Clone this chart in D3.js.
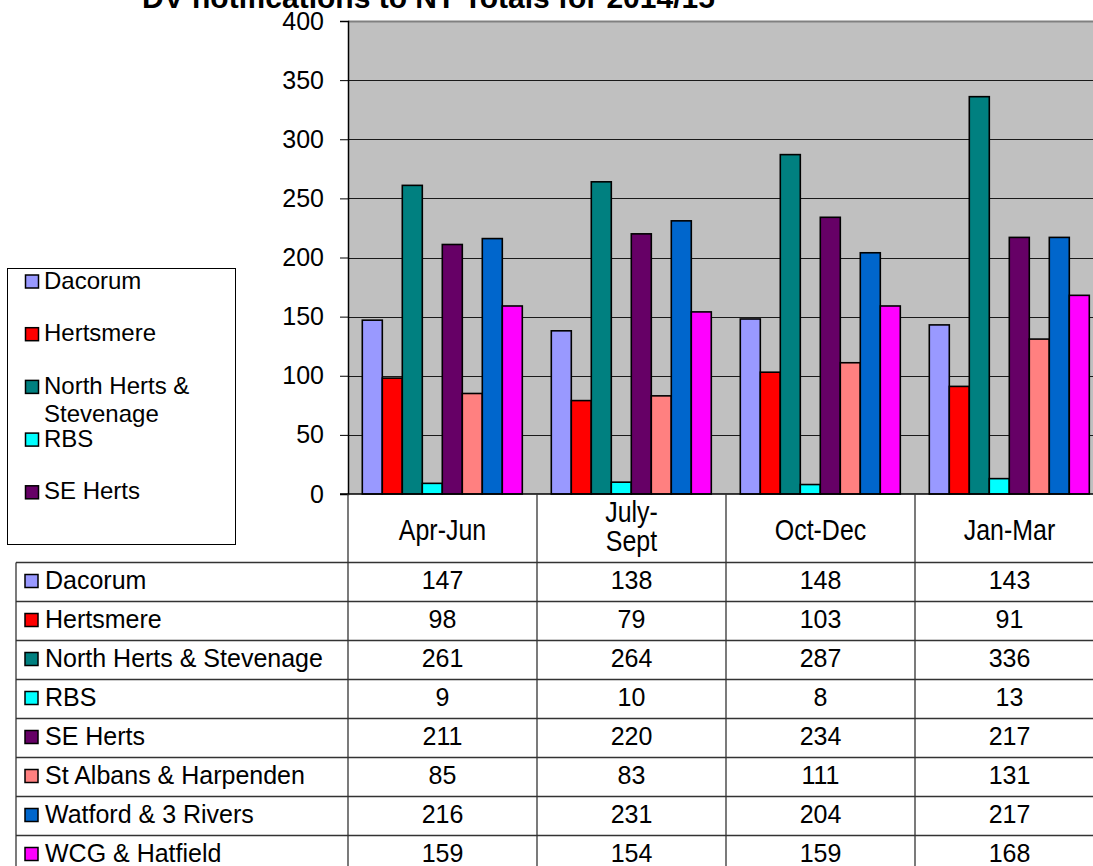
<!DOCTYPE html>
<html>
<head>
<meta charset="utf-8">
<script src="https://cdn.jsdelivr.net/npm/d3@7"></script>
<style>
  html, body { margin: 0; padding: 0; background: #fff; }
  svg { display: block; font-family: "Liberation Sans", Arial, sans-serif; }
</style>
</head>
<body>
<svg id="chart" width="1093" height="866"></svg>
<script>
// ---------------- data ----------------
const title = "DV notifications to NT Totals for 2014/15";
const categories = ["Apr-Jun", "July-Sept", "Oct-Dec", "Jan-Mar"];
const categoryLines = [["Apr-Jun"], ["July-", "Sept"], ["Oct-Dec"], ["Jan-Mar"]];
const seriesNames = ["Dacorum", "Hertsmere", "North Herts & Stevenage", "RBS", "SE Herts",
  "St Albans & Harpenden", "Watford & 3 Rivers", "WCG & Hatfield"];
const seriesColors = ["#9999FF", "#FF0000", "#008080", "#00FFFF", "#660066",
  "#FF8080", "#0066CC", "#FF00FF"];
const dacorum = [147, 138, 148, 143];
const hertsmere = [98, 79, 103, 91];
const northHerts = [261, 264, 287, 336];
const rbs = [9, 10, 8, 13];
const seHerts = [211, 220, 234, 217];
const stAlbans = [85, 83, 111, 131];
const watford = [216, 231, 204, 217];
const wcg = [159, 154, 159, 168];
const seriesValues = [dacorum, hertsmere, northHerts, rbs, seHerts, stAlbans, watford, wcg];
const yTicks = [0, 50, 100, 150, 200, 250, 300, 350, 400];
const legendShown = [["Dacorum"], ["Hertsmere"], ["North Herts &", "Stevenage"], ["RBS"], ["SE Herts"]];

// ---------------- layout ----------------
const svg = d3.select("#chart");
const W = 1093, H = 866;
const plotLeft = 348, plotTop = 21, plotBottom = 494;
const catWidth = 189;
const plotRight = plotLeft + catWidth * categories.length;

const y = d3.scaleLinear().domain([0, 400]).range([plotBottom, plotTop]);
const x0 = d3.scaleBand().domain(categories).range([plotLeft, plotRight]).padding(0);
const x1 = d3.scaleBand().domain(seriesNames).range([14.3, 14.3 + 160]).padding(0);

// title (partially clipped at the top, as in the reference)
svg.append("text")
  .attr("x", 142).attr("y", 8)
  .attr("font-size", 30).attr("font-weight", "bold")
  .attr("fill", "#000")
  .text(title);

// plot background
svg.append("rect")
  .attr("x", plotLeft).attr("y", plotTop)
  .attr("width", plotRight - plotLeft).attr("height", plotBottom - plotTop)
  .attr("fill", "#C0C0C0");

// gridlines
svg.append("g").selectAll("line")
  .data(yTicks.filter(d => d > 0))
  .join("line")
  .attr("x1", plotLeft).attr("x2", plotRight)
  .attr("y1", d => Math.round(y(d)) + 0.5).attr("y2", d => Math.round(y(d)) + 0.5)
  .attr("stroke", d => d === 400 ? "#808080" : "#1a1a1a")
  .attr("stroke-width", d => d === 400 ? 2 : 1);

// y axis
const yAxis = d3.axisLeft(y).tickValues(yTicks).tickSize(8).tickPadding(16);
const gy = svg.append("g")
  .attr("transform", `translate(${plotLeft},0)`)
  .call(yAxis);
gy.select(".domain").attr("stroke", "#000").attr("stroke-width", 1.5);
gy.selectAll(".tick line").attr("stroke", "#000");
gy.selectAll(".tick text")
  .attr("font-size", 25)
  .attr("font-family", "'Liberation Sans', Arial, sans-serif")
  .attr("fill", "#000");

// bars
const groups = svg.append("g").selectAll("g")
  .data(categories)
  .join("g")
  .attr("transform", d => `translate(${x0(d)},0)`);
groups.selectAll("rect")
  .data((c, ci) => seriesNames.map((s, si) => ({ s, si, v: seriesValues[si][ci] })))
  .join("rect")
  .attr("x", d => x1(d.s))
  .attr("y", d => y(d.v))
  .attr("width", x1.bandwidth())
  .attr("height", d => y(0) - y(d.v))
  .attr("fill", d => seriesColors[d.si])
  .attr("stroke", "#000")
  .attr("stroke-width", 1.6);

// x axis line
svg.append("line")
  .attr("x1", plotLeft - 8).attr("x2", W)
  .attr("y1", plotBottom).attr("y2", plotBottom)
  .attr("stroke", "#000").attr("stroke-width", 1.5);

// ---------------- data table ----------------
const rowTop = 562.5, rowH = 39;
const tableLeft = 16;
const lineColor = "#333";
const tbl = svg.append("g");

// vertical lines at category boundaries
const boundaries = categories.map(c => x0(c));
tbl.selectAll("line.v")
  .data(boundaries)
  .join("line")
  .attr("class", "v")
  .attr("x1", d => d).attr("x2", d => d)
  .attr("y1", plotBottom).attr("y2", H)
  .attr("stroke", lineColor).attr("stroke-width", 1.3);
// left border of table body
tbl.append("line")
  .attr("x1", tableLeft).attr("x2", tableLeft)
  .attr("y1", rowTop).attr("y2", H)
  .attr("stroke", lineColor).attr("stroke-width", 1.3);
// horizontal row lines
tbl.selectAll("line.h")
  .data(d3.range(seriesNames.length + 1))
  .join("line")
  .attr("class", "h")
  .attr("x1", tableLeft).attr("x2", W)
  .attr("y1", i => rowTop + i * rowH).attr("y2", i => rowTop + i * rowH)
  .attr("stroke", lineColor).attr("stroke-width", 1.3);

// category header labels (condensed look)
categories.forEach((c, ci) => {
  const lines = categoryLines[ci];
  const cx = x0(c) + catWidth / 2;
  const baseY = lines.length === 1 ? 540 : 522;
  lines.forEach((ln, li) => {
    tbl.append("text")
      .attr("transform", `translate(${cx},${baseY + li * 29}) scale(0.86,1)`)
      .attr("text-anchor", "middle")
      .attr("font-size", 29)
      .text(ln);
  });
});

// row labels with keys and values
seriesNames.forEach((s, si) => {
  const top = rowTop + si * rowH;
  tbl.append("rect")
    .attr("x", 25).attr("y", top + 12)
    .attr("width", 13).attr("height", 13)
    .attr("fill", seriesColors[si])
    .attr("stroke", "#000").attr("stroke-width", 1.5);
  tbl.append("text")
    .attr("x", 45).attr("y", top + 26)
    .attr("font-size", 25)
    .text(s);
  categories.forEach((c, ci) => {
    tbl.append("text")
      .attr("x", x0(c) + catWidth / 2).attr("y", top + 26)
      .attr("text-anchor", "middle")
      .attr("font-size", 25)
      .text(seriesValues[si][ci]);
  });
});

// ---------------- legend ----------------
const leg = svg.append("g");
leg.append("rect")
  .attr("x", 7.5).attr("y", 268.5)
  .attr("width", 228).attr("height", 276)
  .attr("fill", "#fff")
  .attr("stroke", "#000").attr("stroke-width", 1);
legendShown.forEach((lines, i) => {
  const base = 288.5 + i * 52.7;
  leg.append("rect")
    .attr("x", 25.5).attr("y", base - 13.5)
    .attr("width", 13).attr("height", 13)
    .attr("fill", seriesColors[i])
    .attr("stroke", "#000").attr("stroke-width", 1.5);
  lines.forEach((ln, li) => {
    leg.append("text")
      .attr("x", 44).attr("y", base + li * 28.3)
      .attr("font-size", 24)
      .text(ln);
  });
});
</script>
</body>
</html>
